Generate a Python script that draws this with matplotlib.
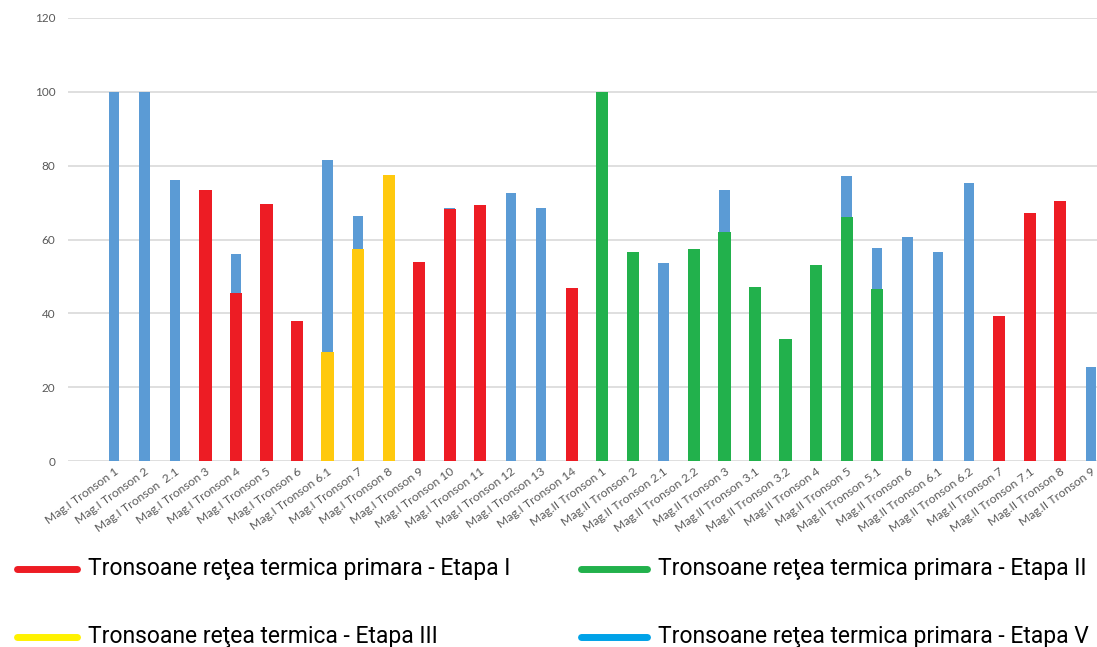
import matplotlib
matplotlib.use("Agg")
import matplotlib.pyplot as plt
from matplotlib.lines import Line2D
import numpy as np

categorii = [
    "Mag.I Tronson 1", "Mag.I Tronson 2", "Mag.I Tronson  2.1", "Mag.I Tronson 3",
    "Mag.I Tronson 4", "Mag.I Tronson 5", "Mag.I Tronson 6", "Mag.I Tronson 6.1",
    "Mag.I Tronson 7", "Mag.I Tronson 8", "Mag.I Tronson 9", "Mag.I Tronson 10",
    "Mag.I Tronson 11", "Mag.I Tronson 12", "Mag.I Tronson 13", "Mag.I Tronson 14",
    "Mag.II Tronson 1", "Mag.II Tronson 2", "Mag.II Tronson 2.1", "Mag.II Tronson 2.2",
    "Mag.II Tronson 3", "Mag.II Tronson 3.1", "Mag.II Tronson 3.2", "Mag.II Tronson 4",
    "Mag.II Tronson 5", "Mag.II Tronson 5.1", "Mag.II Tronson 6", "Mag.II Tronson 6.1",
    "Mag.II Tronson 6.2", "Mag.II Tronson 7", "Mag.II Tronson 7.1", "Mag.II Tronson 8",
    "Mag.II Tronson 9",
]

# valoarea totala pe tronson (bara albastra)
total = [100, 100, 76.0, 73.4, 56.2, 69.6, 38.0, 81.4, 66.4, 77.6, 53.8, 68.5, 69.3,
         72.7, 68.5, 46.8, 100, 56.6, 53.6, 57.4, 73.4, 47.2, 33.1, 53.1, 77.3, 57.7,
         60.8, 56.6, 75.3, 39.3, 67.1, 70.3, 25.4]

# portiunea realizata pe etape (0 = nu exista)
etapa_1 = [0, 0, 0, 73.4, 45.6, 69.6, 38.0, 0, 0, 0, 53.8, 68.2, 69.3, 0, 0, 46.8,
           0, 0, 0, 0, 0, 0, 0, 0, 0, 0, 0, 0, 0, 39.3, 67.1, 70.3, 0]
etapa_2 = [0] * 16 + [100, 56.6, 0, 57.4, 62.1, 47.2, 33.1, 53.1, 66.1, 46.5,
                      0, 0, 0, 0, 0, 0, 0]
etapa_3 = [0, 0, 0, 0, 0, 0, 0, 29.5, 57.5, 77.6] + [0] * 23

legenda = [
    "Tronsoane reţea termica primara - Etapa I",
    "Tronsoane reţea termica primara - Etapa II",
    "Tronsoane reţea termica - Etapa III",
    "Tronsoane reţea termica primara - Etapa V",
]
culori_legenda = ["#ED1C24", "#22B14C", "#FFF200", "#00A2E8"]

W, H = 1097, 647
x = np.arange(len(categorii))

fig = plt.figure(figsize=(W / 100, H / 100), dpi=100)
ax = fig.add_axes([68 / W, 1 - 461 / H, 1 - 68 / W, (461 - 18) / H])

ax.bar(x, total, width=0.34, color="#5B9BD5", zorder=2)
for vals, col in [(etapa_1, "#ED1C24"), (etapa_2, "#22B14C"), (etapa_3, "#FFC90E")]:
    v = np.array(vals, dtype=float)
    m = v > 0
    ax.bar(x[m], v[m], width=0.40, color=col, zorder=3)

ax.set_ylim(0, 120)
ax.set_xlim(-1.5, 32.2)
ax.set_yticks(range(0, 121, 20))
ax.yaxis.grid(True, color="#D9D9D9", lw=1.2, zorder=0)
ax.set_axisbelow(True)
for s in ax.spines.values():
    s.set_visible(False)
ax.tick_params(axis="both", length=0, colors="#595959", labelsize=8.5)
ax.tick_params(axis="y", pad=9)
ax.set_xticks(x)
ax.set_xticklabels(categorii, rotation=36, ha="right", rotation_mode="anchor",
                   fontsize=8.7, family="Lato", color="#595959")
for t in ax.get_yticklabels():
    t.set_family("Lato")

# legenda desenata manual, doua coloane
poz = [(14, 80, 569), (578, 650, 569), (14, 80, 637), (578, 650, 637)]
for (x0, x1, y), text, col in zip(poz, legenda, culori_legenda):
    fig.add_artist(Line2D([(x0 + 3) / W, (x1 - 3) / W], [1 - y / H, 1 - y / H],
                          color=col, lw=5, solid_capstyle="round",
                          transform=fig.transFigure))
    fig.text((x1 + 8) / W, 1 - y / H, text, va="center", ha="left", fontsize=16.5,
             family=["Roboto", "DejaVu Sans"], color="black")

fig.savefig("out.png", dpi=100)
